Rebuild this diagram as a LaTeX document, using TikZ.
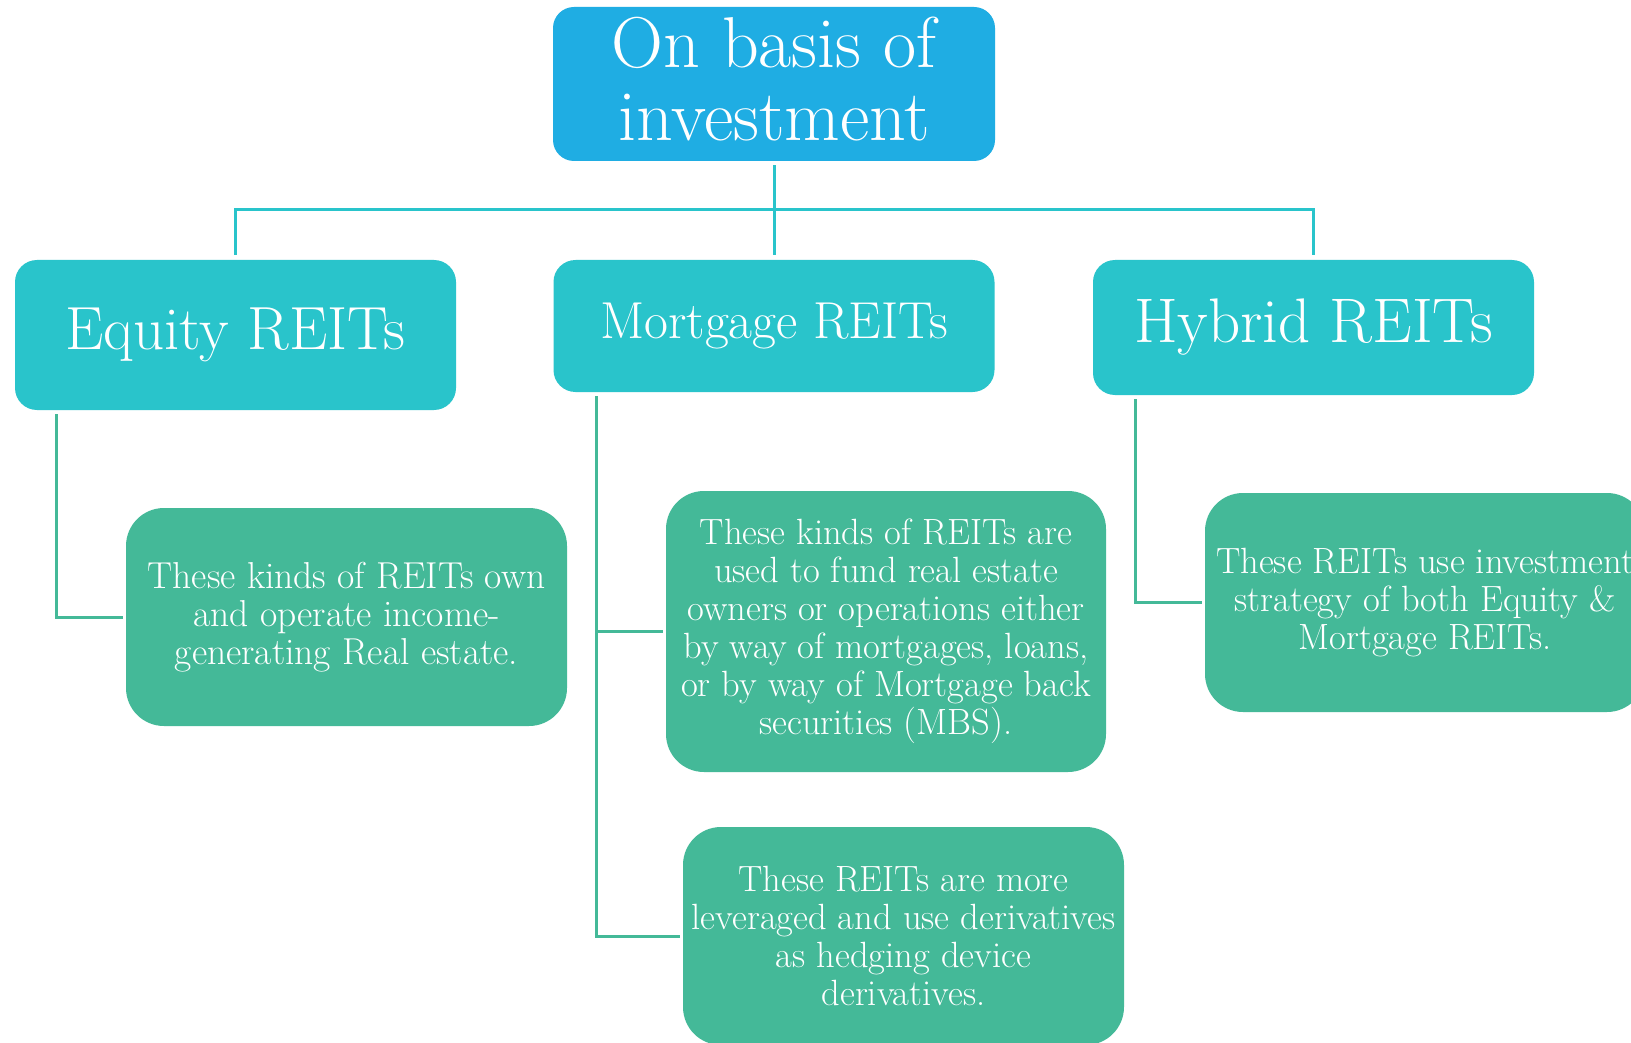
\documentclass[tikz,border=0pt]{standalone}
\usepackage{fontspec}
\begin{document}
\definecolor{topblue}{HTML}{1FADE3}
\definecolor{catteal}{HTML}{29C4CB}
\definecolor{descgreen}{HTML}{44B998}
\begin{tikzpicture}[x=1pt,y=-1pt,
  topbox/.style={fill=topblue,rounded corners=21pt,inner sep=0pt,
    minimum width=442pt,minimum height=154pt},
  toptext/.style={text=white,inner sep=0pt,align=center,
    font=\fontsize{72}{73}\selectfont},
  catbox/.style={fill=catteal,text=white,rounded corners=22pt,inner sep=0pt,
    minimum width=441pt,align=center},
  descbox/.style={fill=descgreen,text=white,rounded corners=38pt,inner sep=0pt,
    align=center,font=\fontsize{36.5}{38}\selectfont},
  toplink/.style={draw=catteal,line width=3pt},
  sublink/.style={draw=descgreen,line width=3pt}]
\clip (0,0) rectangle (1631,1043);
\fill[white] (0,0) rectangle (1631,1043);

% root and the three kinds
\node[topbox] (root) at (774,84) {};
\node[toptext] (rootlabel) at ([yshift=5pt]root.center) {On basis of\\investment};
\node[catbox,minimum height=150pt,font=\fontsize{61}{64}\selectfont] (eq) at (235.5,335) {Equity REITs};
\node[catbox,minimum height=132pt,font=\fontsize{52}{56}\selectfont] (mo) at (774,326) {Mortgage REITs};
\node[catbox,minimum height=135pt,font=\fontsize{63}{66}\selectfont] (hy) at (1313.5,327.5) {Hybrid REITs};

% descriptions
\node[descbox,minimum width=441pt,minimum height=218pt,font=\fontsize{37.5}{38}\selectfont] (eqd) at (346.5,617)
  {These kinds of REITs own\\and operate income-\\generating Real estate.};
\node[descbox,minimum width=440pt,minimum height=281pt] (mod1) at (886,631.5)
  {These kinds of REITs are\\used to fund real estate\\owners or operations either\\by way of mortgages, loans,\\or by way of Mortgage back\\securities (MBS).};
\node[descbox,minimum width=441pt,minimum height=218pt] (mod2) at (903.5,936)
  {These REITs are more\\leveraged and use derivatives\\as hedging device\\derivatives.};
\node[descbox,minimum width=440pt,minimum height=219pt] (hyd) at (1425,602.5)
  {These REITs use investment\\strategy of both Equity \&\\Mortgage REITs.};

% tree links from the root
\coordinate (hub) at (774,210);
\draw[toplink] ([yshift=-4pt]root.south) -- ([yshift=5pt]mo.north);
\draw[toplink] ([yshift=5pt]eq.north) |- (hub) -| ([yshift=5pt]hy.north);

% links to the descriptions
\draw[sublink] ([xshift=42pt,yshift=-4pt]eq.south west) |- ([xshift=-3pt]eqd.west);
\draw[sublink] ([xshift=43pt,yshift=-4pt]mo.south west) |- ([xshift=-3pt]mod2.west);
\draw[sublink] ([xshift=43pt]mo.south west |- mod1.west) -- ([xshift=-3pt]mod1.west);
\draw[sublink] ([xshift=43pt,yshift=-4pt]hy.south west) |- ([xshift=-3pt]hyd.west);
\end{tikzpicture}
\end{document}
